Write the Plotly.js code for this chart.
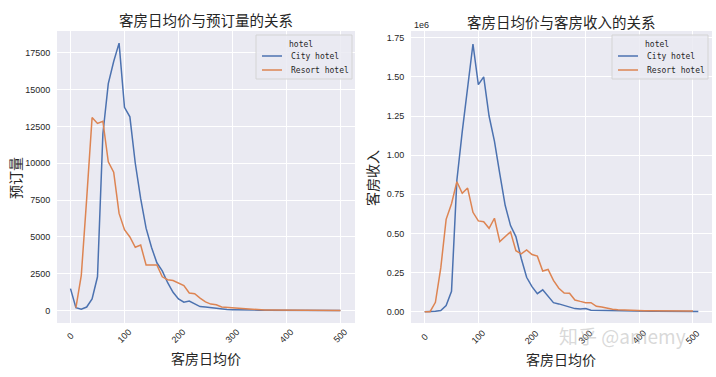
<!DOCTYPE html>
<html>
<head>
<meta charset="utf-8">
<script src="https://cdn.plot.ly/plotly-3.0.1.min.js"></script>
<style>html,body{margin:0;padding:0;background:#fff}#chart{width:716px;height:377px}</style>
</head>
<body>
<div id="chart"></div>
<script>
// ---- data ----
const titleLeft = "客房日均价与预订量的关系";
const titleRight = "客房日均价与客房收入的关系";
const xLabel = "客房日均价";
const yLabelLeft = "预订量";
const yLabelRight = "客房收入";
const legendTitle = "hotel";
const seriesNames = ["City hotel", "Resort hotel"];

// left chart: bookings per price bin
const priceCityLeft = [0,10,20,30,40,50,60,70,80,90,100,110,120,130,140,150,160,170,180,190,200,210,220,230,240,250,260,270,280,290,300,310,320,330,340,350,360,370,380,390,400,410,420,430,440,450,460,470,480,490,500];
const bookingsCity = [1500,200,100,250,800,2300,12000,15400,16900,18150,13800,13150,10000,7600,5600,4300,3250,2700,1900,1250,800,580,650,450,280,250,200,130,90,80,70,55,50,45,40,36,33,30,28,26,24,22,20,18,16,15,14,13,12,11,10];
const priceResortLeft = [10,20,30,40,50,60,70,80,90,100,110,120,130,140,150,160,170,180,190,200,210,220,230,240,250,260,270,280,290,300,310,320,330,340,350,360,370,380,390,400,410,420,430,440,450,460,470,480,490,500];
const bookingsResort = [200,2400,7600,13100,12700,12850,10100,9400,6600,5500,5000,4300,4450,3100,3100,3100,2300,2100,2050,1850,1700,1200,1150,850,600,450,400,250,220,200,180,120,90,70,55,45,40,35,30,28,25,23,21,19,17,16,15,14,13,12];

// right chart: revenue (1e6) per price bin
const priceCityRight = [0,10,20,30,40,50,60,70,80,90,100,110,120,130,140,150,160,170,180,190,200,210,220,230,240,250,260,270,280,290,300,310,320,330,340,350,360,370,380,390,400,410,420,430,440,450,460,470,480,490,500,510];
const revenueCity = [0,0,0.003,0.008,0.04,0.13,0.84,1.15,1.43,1.71,1.45,1.50,1.25,1.09,0.88,0.68,0.55,0.48,0.34,0.22,0.16,0.115,0.14,0.095,0.058,0.05,0.04,0.028,0.02,0.018,0.02,0.01,0.009,0.008,0.007,0.006,0.006,0.005,0.005,0.004,0.004,0.004,0.003,0.003,0.003,0.003,0.002,0.002,0.002,0.002,0.002,0.002];
const priceResortRight = [0,10,20,30,40,50,60,70,80,90,100,110,120,130,140,150,160,170,180,190,200,210,220,230,240,250,260,270,280,290,300,310,320,330,340,350,360,370,380,390,400,410,420,430,440,450,460,470,480,490,500];
const revenueResort = [0,0,0.06,0.28,0.59,0.69,0.83,0.757,0.79,0.635,0.58,0.575,0.533,0.597,0.448,0.48,0.51,0.39,0.37,0.395,0.365,0.355,0.26,0.27,0.20,0.15,0.12,0.118,0.075,0.066,0.058,0.058,0.035,0.03,0.022,0.016,0.013,0.011,0.01,0.009,0.008,0.007,0.007,0.006,0.006,0.005,0.005,0.005,0.004,0.004,0.004];

const xTicks = [0,100,200,300,400,500];
const yTicksLeft = [0,2500,5000,7500,10000,12500,15000,17500];
const yTicksRight = [0,0.25,0.5,0.75,1.0,1.25,1.5,1.75];
const yTickTextRight = ["0.00","0.25","0.50","0.75","1.00","1.25","1.50","1.75"];

// ---- style ----
const COLORS = ["#4c72b0", "#dd8452"];
const TXT = "#262626";
const CJK = "Noto Sans CJK SC";
const MONO = "DejaVu Sans Mono";
const TICKF = {family: "Liberation Sans, Arial", size: 9, color: TXT};
const H = 377, W = 716;
const py = px => 1 - px / H;
const pxx = px => px / W;

const traces = [
  {x: priceCityLeft, y: bookingsCity, name: seriesNames[0], type: "scatter", mode: "lines", line: {color: COLORS[0], width: 1.5}, xaxis: "x", yaxis: "y", showlegend: false},
  {x: priceResortLeft, y: bookingsResort, name: seriesNames[1], type: "scatter", mode: "lines", line: {color: COLORS[1], width: 1.5}, xaxis: "x", yaxis: "y", showlegend: false},
  {x: priceCityRight, y: revenueCity, name: seriesNames[0], type: "scatter", mode: "lines", line: {color: COLORS[0], width: 1.5}, xaxis: "x2", yaxis: "y2", showlegend: false},
  {x: priceResortRight, y: revenueResort, name: seriesNames[1], type: "scatter", mode: "lines", line: {color: COLORS[1], width: 1.5}, xaxis: "x2", yaxis: "y2", showlegend: false}
];

const yDom = [py(323), py(31)];
const axisCommon = {gridcolor: "#ffffff", gridwidth: 1, zeroline: false, showline: false, ticks: "outside", ticklen: 4, tickcolor: "rgba(0,0,0,0)", tickfont: TICKF};

const annotations = [];
const shapes = [];
function addText(text, x, y, size, opts) {
  annotations.push(Object.assign({text: text, x: x, y: y, xref: "paper", yref: "paper", showarrow: false,
    xanchor: "center", yanchor: "middle", font: {family: CJK, size: size, color: TXT}}, opts || {}));
}
addText(titleLeft, pxx(206), py(20), 14.5);
addText(titleRight, pxx(561), py(21), 14.5);
addText(xLabel, pxx(206), py(358), 14);
addText(xLabel, pxx(561), py(359), 14);
addText(yLabelLeft, pxx(15), py(178), 14, {textangle: -90});
addText(yLabelRight, pxx(372), py(178), 14, {textangle: -90});
addText("1e6", pxx(412), py(25), 9, {xanchor: "left", font: {family: "Liberation Sans, Arial", size: 9, color: TXT}});
xTicks.forEach(v => {
  annotations.push({text: String(v), x: v, xref: "x", y: py(336), yref: "paper", showarrow: false, textangle: -45,
    xanchor: "center", yanchor: "middle", font: TICKF});
  annotations.push({text: String(v), x: v, xref: "x2", y: py(337), yref: "paper", showarrow: false, textangle: -45,
    xanchor: "center", yanchor: "middle", font: TICKF});
});

// legend boxes (matplotlib style) for both panels
function addLegend(L, T) {
  shapes.push({type: "rect", xref: "paper", yref: "paper", x0: pxx(L), x1: pxx(L + 96), y0: py(T + 44), y1: py(T),
    fillcolor: "rgba(234,234,242,0.85)", line: {color: "#d4d4d4", width: 1}, layer: "above"});
  addText(legendTitle, pxx(L + 45), py(T + 9), 8, {font: {family: MONO, size: 8, color: TXT}});
  seriesNames.forEach((nm, i) => {
    const yy = T + 21 + i * 14;
    shapes.push({type: "line", xref: "paper", yref: "paper", x0: pxx(L + 6), x1: pxx(L + 26), y0: py(yy), y1: py(yy),
      line: {color: COLORS[i], width: 1.5}, layer: "above"});
    addText(nm, pxx(L + 33), py(yy), 8, {xanchor: "left", font: {family: MONO, size: 8, color: TXT}});
  });
}
addLegend(256, 35);
addLegend(612, 35);

// watermark
addText("知乎 @amemy", pxx(622), py(335), 19, {font: {family: CJK, size: 19, color: "rgba(185,185,185,0.55)"}});

const layout = {
  width: W, height: H, margin: {l: 0, r: 0, t: 0, b: 0},
  paper_bgcolor: "#ffffff", plot_bgcolor: "#eaeaf2",
  xaxis: Object.assign({}, axisCommon, {domain: [pxx(57), pxx(355)], range: [-25, 527], tickvals: xTicks, showticklabels: false, anchor: "y"}),
  yaxis: Object.assign({}, axisCommon, {domain: yDom, range: [-834, 18972], tickvals: yTicksLeft, tickformat: "d", anchor: "x"}),
  xaxis2: Object.assign({}, axisCommon, {domain: [pxx(411), pxx(712)], range: [-25.5, 535.5], tickvals: xTicks, showticklabels: false, anchor: "y2"}),
  yaxis2: Object.assign({}, axisCommon, {domain: yDom, range: [-0.072, 1.793], tickvals: yTicksRight, ticktext: yTickTextRight, anchor: "x2"}),
  showlegend: false,
  shapes: shapes,
  annotations: annotations
};

Plotly.newPlot("chart", traces, layout, {displayModeBar: false, staticPlot: true});
</script>
</body>
</html>
